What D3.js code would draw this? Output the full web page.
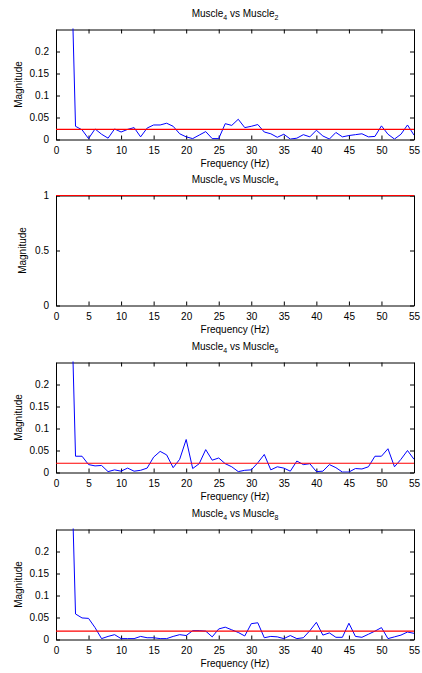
<!DOCTYPE html>
<html>
<head>
<meta charset="utf-8">
<script src="https://cdn.jsdelivr.net/npm/d3@7"></script>
<style>
  html, body { margin: 0; padding: 0; background: #fff; }
  svg { display: block; font-family: "Liberation Sans", Arial, sans-serif; }
</style>
</head>
<body>
<svg id="chart" width="422" height="673"></svg>
<script>
// ---- data ----
const freqs = d3.range(2, 56); // 2..55 Hz
const titlesMain = ["Muscle", "Muscle", "Muscle", "Muscle"];
const titleSubA = ["4", "4", "4", "4"];
const titleSubB = ["2", "4", "6", "8"];

const mag2 = [0.6, 0.030, 0.022, 0.002, 0.024, 0.012, 0.003, 0.024, 0.017, 0.023, 0.027,
  0.006, 0.026, 0.033, 0.033, 0.037, 0.030, 0.013, 0.006, 0.002, 0.010, 0.018, 0.002,
  0.002, 0.036, 0.032, 0.046, 0.027, 0.030, 0.034, 0.017, 0.013, 0.005, 0.012, 0.001,
  0.003, 0.011, 0.006, 0.021, 0.008, 0.001, 0.016, 0.006, 0.009, 0.011, 0.013, 0.006,
  0.007, 0.031, 0.012, 0.001, 0.012, 0.033, 0.010];
const mag4 = freqs.map(() => 1);
const mag6 = [0.6, 0.037, 0.037, 0.018, 0.015, 0.016, 0.002, 0.006, 0.003, 0.010, 0.003,
  0.005, 0.010, 0.035, 0.048, 0.040, 0.011, 0.030, 0.075, 0.009, 0.020, 0.052, 0.028,
  0.033, 0.020, 0.013, 0.002, 0.005, 0.006, 0.022, 0.041, 0.006, 0.013, 0.010, 0.003,
  0.026, 0.018, 0.020, 0.002, 0.003, 0.018, 0.011, 0.001, 0.001, 0.009, 0.008, 0.013,
  0.037, 0.037, 0.054, 0.013, 0.030, 0.050, 0.030];
const mag8 = [0.6, 0.058, 0.049, 0.048, 0.027, 0.002, 0.007, 0.011, 0.002, 0.002, 0.002,
  0.007, 0.004, 0.004, 0.002, 0.002, 0.007, 0.011, 0.009, 0.020, 0.020, 0.019, 0.006,
  0.024, 0.028, 0.022, 0.016, 0.008, 0.036, 0.038, 0.004, 0.007, 0.006, 0.002, 0.009,
  0.002, 0.004, 0.020, 0.039, 0.010, 0.015, 0.005, 0.005, 0.037, 0.007, 0.005, 0.012,
  0.019, 0.027, 0.002, 0.006, 0.010, 0.017, 0.014];
const seriesList = [mag2, mag4, mag6, mag8];
const thresholds = [0.023, 1, 0.021, 0.019];
const yMaxes = [0.25, 1, 0.25, 0.25];
const xTicks = d3.range(0, 56, 5);
const yTicksSmall = [0, 0.05, 0.1, 0.15, 0.2];
const yTicksUnit = [0, 0.5, 1];
const yTickSets = [yTicksSmall, yTicksUnit, yTicksSmall, yTicksSmall];
const xLabel = "Frequency (Hz)";
const yLabel = "Magnitude";

// ---- layout ----
const svg = d3.select("#chart");
const left = 56, right = 414;
const tops = [29.5, 195.5, 362.5, 529.5];
const yLabelX = [18, 22, 18, 18];
const ph = 110;
const fs = 10;

seriesList.forEach((vals, i) => {
  const top = tops[i], bottom = top + ph;
  const x = d3.scaleLinear().domain([0, 55]).range([left, right]);
  const y = d3.scaleLinear().domain([0, yMaxes[i]]).range([bottom, top]);
  const g = svg.append("g");
  const fmt = d => d3.format("")(+d.toFixed(2));

  // clip
  const cid = "clip" + i;
  svg.append("clipPath").attr("id", cid).append("rect")
    .attr("x", left).attr("y", top - 1).attr("width", right - left).attr("height", ph + 1);

  // axes
  const styleAxis = (sel, labels) => {
    sel.select(".domain").attr("stroke", "#000").attr("stroke-width", 1);
    sel.selectAll(".tick line").attr("stroke", "#000");
    sel.selectAll(".tick text").attr("font-size", fs).attr("fill", "#000")
      .attr("font-family", "Liberation Sans, Arial, sans-serif");
    if (!labels) sel.selectAll(".tick text").remove();
  };
  const ax = g.append("g").attr("transform", `translate(0,${bottom})`)
    .call(d3.axisBottom(x).tickValues(xTicks).tickSizeInner(-4).tickSizeOuter(0).tickPadding(7));
  styleAxis(ax, true);
  const axT = g.append("g").attr("transform", `translate(0,${top})`)
    .call(d3.axisTop(x).tickValues(xTicks).tickSizeInner(-4).tickSizeOuter(0));
  styleAxis(axT, false);
  const ay = g.append("g").attr("transform", `translate(${left},0)`)
    .call(d3.axisLeft(y).tickValues(yTickSets[i]).tickFormat(fmt).tickSizeInner(-4).tickSizeOuter(0).tickPadding(7));
  styleAxis(ay, true);
  const ayR = g.append("g").attr("transform", `translate(${right},0)`)
    .call(d3.axisRight(y).tickValues(yTickSets[i]).tickSizeInner(-4).tickSizeOuter(0));
  styleAxis(ayR, false);

  // data line
  const line = d3.line().x((d, k) => x(freqs[k])).y(d => y(d));
  g.append("path").datum(vals).attr("d", line)
    .attr("fill", "none").attr("stroke", "#0000ff").attr("stroke-width", 1)
    .attr("clip-path", `url(#${cid})`);

  // threshold
  g.append("line")
    .attr("x1", x(0)).attr("x2", x(55))
    .attr("y1", y(thresholds[i])).attr("y2", y(thresholds[i]))
    .attr("stroke", "#ff0000").attr("stroke-width", 1.1);

  // title with subscripts
  const t = g.append("text").attr("x", (left + right) / 2).attr("y", top - 13)
    .attr("text-anchor", "middle").attr("font-size", fs).attr("fill", "#000");
  t.append("tspan").text(titlesMain[i]);
  t.append("tspan").attr("font-size", 7).attr("dy", 3).text(titleSubA[i]);
  t.append("tspan").attr("dy", -3).text(" vs " + titlesMain[i]);
  t.append("tspan").attr("font-size", 7).attr("dy", 3).text(titleSubB[i]);

  // x label
  g.append("text").attr("x", (left + right) / 2).attr("y", bottom + 27)
    .attr("text-anchor", "middle").attr("font-size", fs).attr("fill", "#000").text(xLabel);

  // y label
  g.append("text")
    .attr("transform", `translate(${yLabelX[i]},${(top + bottom) / 2}) rotate(-90)`)
    .attr("dy", "0.35em")
    .attr("text-anchor", "middle").attr("font-size", fs).attr("fill", "#000").text(yLabel);
});
</script>
</body>
</html>
